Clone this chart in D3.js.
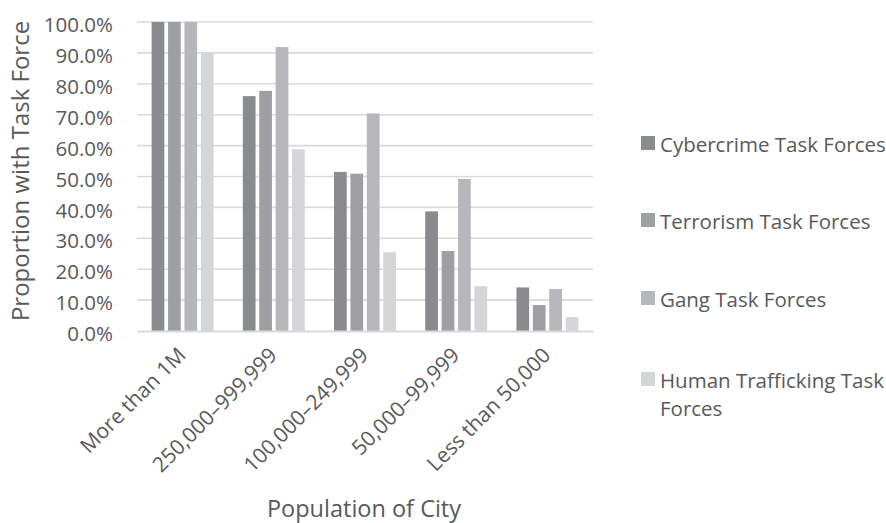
<!DOCTYPE html>
<html>
<head>
<meta charset="utf-8">
<script src="https://cdn.jsdelivr.net/npm/d3@7"></script>
<style>
  html, body { margin: 0; padding: 0; background: #fff; }
  svg { display: block; font-family: "Open Sans", sans-serif; }
  text { fill: #595959; }
</style>
</head>
<body>
<svg id="chart" width="886" height="523"></svg>
<script>
// City population bands
const categories = ["More than 1M", "250,000–999,999", "100,000–249,999", "50,000–99,999", "Less than 50,000"];
// Task force types, in legend order
const seriesNames = ["Cybercrime Task Forces", "Terrorism Task Forces", "Gang Task Forces", "Human Trafficking Task Forces"];
// Share of cities with each task force (fraction of 1)
const cybercrime = [1.000, 0.760, 0.515, 0.387, 0.141];
const terrorism  = [1.000, 0.777, 0.509, 0.259, 0.084];
const gang       = [1.000, 0.919, 0.704, 0.492, 0.136];
const trafficking = [0.901, 0.588, 0.255, 0.145, 0.045];
const yTicks = [0, 0.1, 0.2, 0.3, 0.4, 0.5, 0.6, 0.7, 0.8, 0.9, 1.0];

const seriesValues = [cybercrime, terrorism, gang, trafficking];
const colors = ["#8a8b8f", "#9e9fa3", "#b6b7ba", "#d4d5d7"];

const svg = d3.select("#chart");
svg.append("rect").attr("width", 886).attr("height", 523).attr("fill", "#fff");

const plot = { left: 137, right: 593, top: 22, bottom: 331 };

const y = d3.scaleLinear().domain([0, 1]).range([plot.bottom, plot.top]);
const x0 = d3.scaleBand().domain(categories).range([plot.left, plot.right])
  .paddingInner(0.28).paddingOuter(0.14);
const x1 = d3.scaleBand().domain(seriesNames).range([0, x0.bandwidth()]);
const inset = 1.85;

// Horizontal gridlines
svg.append("g")
  .selectAll("line")
  .data(yTicks.filter(t => t > 0))
  .join("line")
  .attr("x1", plot.left).attr("x2", plot.right)
  .attr("y1", d => y(d)).attr("y2", d => y(d))
  .attr("stroke", "#d9d9d9").attr("stroke-width", 1.6);

// Y axis labels
const yAxis = d3.axisLeft(y).tickValues(yTicks).tickFormat(d3.format(".1%")).tickSize(0).tickPadding(24);
const gy = svg.append("g").attr("transform", `translate(${plot.left},0)`).call(yAxis);
gy.select(".domain").remove();
gy.selectAll("text")
  .attr("font-size", 20.5)
  .attr("font-family", "'Open Sans', sans-serif")
  .attr("fill", "#595959")
  .attr("dy", "0.47em");

// Bars
const groups = svg.append("g")
  .selectAll("g")
  .data(categories.map((c, i) => ({ cat: c, vals: seriesNames.map((s, j) => ({ s, v: seriesValues[j][i], color: colors[j] })) })))
  .join("g")
  .attr("transform", d => `translate(${x0(d.cat)},0)`);

groups.selectAll("rect")
  .data(d => d.vals)
  .join("rect")
  .attr("x", d => x1(d.s) + inset)
  .attr("width", x1.bandwidth() - 2 * inset)
  .attr("y", d => y(d.v))
  .attr("height", d => y(0) - y(d.v))
  .attr("fill", d => d.color);

// X axis baseline and labels
const xAxis = d3.axisBottom(x0).tickSize(0).tickPadding(0);
const gx = svg.append("g").attr("transform", `translate(0,${plot.bottom})`).call(xAxis);
gx.select(".domain").attr("stroke", "#d9d9d9").attr("stroke-width", 2);
gx.selectAll("text")
  .attr("font-size", 21)
  .attr("font-family", "'Open Sans', sans-serif")
  .attr("fill", "#595959")
  .attr("text-anchor", "end")
  .attr("dy", null)
  .attr("y", 0)
  .attr("transform", "translate(-8,13) rotate(-45)")
  .attr("dominant-baseline", "hanging");

// Axis titles
svg.append("text")
  .attr("x", 364).attr("y", 517)
  .attr("text-anchor", "middle")
  .attr("font-size", 23.5)
  .text("Population of City");

svg.append("text")
  .attr("transform", "translate(29,171) rotate(-90)")
  .attr("text-anchor", "middle")
  .attr("font-size", 24)
  .text("Proportion with Task Force");

// Legend
const legendRows = [
  { lines: ["Cybercrime Task Forces"], y: 145 },
  { lines: ["Terrorism Task Forces"], y: 222 },
  { lines: ["Gang Task Forces"], y: 300 },
  { lines: ["Human Trafficking Task", "Forces"], y: 381 }
];
const legend = svg.append("g");
legendRows.forEach((r, i) => {
  legend.append("rect")
    .attr("x", 641).attr("y", r.y - 9)
    .attr("width", 14).attr("height", 14)
    .attr("fill", colors[i]);
  const t = legend.append("text")
    .attr("x", 660).attr("y", r.y)
    .attr("font-size", 20.5);
  r.lines.forEach((ln, k) => {
    t.append("tspan").attr("x", 660).attr("dy", k === 0 ? "0.35em" : 28).text(ln);
  });
});
</script>
</body>
</html>
